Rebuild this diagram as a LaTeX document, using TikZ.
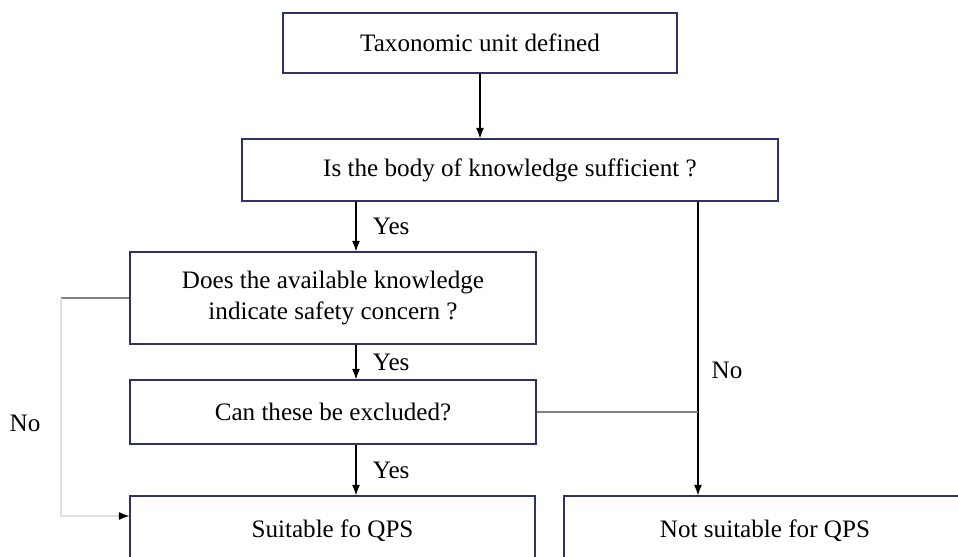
\documentclass[tikz,border=0pt]{standalone}
\usepackage{fontspec}
\setmainfont{Liberation Serif}
\usetikzlibrary{arrows.meta}
\definecolor{boxblue}{HTML}{2D3366}
\tikzset{
  qbox/.style={draw=boxblue,line width=0.7pt,align=center,inner sep=2pt,
    font=\fontsize{14.3}{17.6}\selectfont},
  flow/.style={-{Latex[length=6pt,width=4.5pt]},line width=0.6pt},
  lbl/.style={font=\fontsize{14.3}{17.6}\selectfont}
}
\begin{document}
\begin{tikzpicture}[x=0.02cm,y=-0.02cm]
                \useasboundingbox (0,0) rectangle (958,556);
                \node[qbox,minimum width=7.88cm,minimum height=1.2cm] (taxon) at (480,43) {Taxonomic unit defined};
                \node[qbox,minimum width=10.72cm,minimum height=1.24cm] (body) at (510,170) {Is the body of knowledge sufficient ?};
                \node[qbox,minimum width=8.12cm,minimum height=1.84cm] (concern) at (333,298) {Does the available knowledge\\indicate safety concern ?};
                \node[qbox,minimum width=8.12cm,minimum height=1.28cm] (exclude) at (333,412) {Can these be excluded?};
                \node[qbox,minimum width=8.1cm,minimum height=1.4cm] (suit) at (332.5,531) {Suitable fo QPS};
                \node[qbox,minimum width=8.04cm,minimum height=1.4cm] (notsuit) at (765,531) {Not suitable for QPS};
                \coordinate (spine) at (356,0);
                \coordinate (rspine) at (698,0);
                \coordinate (lspine) at (61,0);
                \coordinate (noin) at (61,516);
                \draw[flow] (taxon.south) -- (body.north -| taxon.south);
                \draw[flow] (spine |- body.south) -- (spine |- concern.north) node[lbl,midway,right=6pt] (yes1) {Yes};
                \draw[flow] (spine |- concern.south) -- (spine |- exclude.north) node[lbl,midway,right=6pt] (yes2) {Yes};
                \draw[flow] (spine |- exclude.south) -- (spine |- suit.north) node[lbl,midway,right=6pt] (yes3) {Yes};
                \draw[flow] (rspine |- body.south) -- (rspine |- notsuit.north);
                \draw[gray,line width=0.6pt] (exclude.east) -- (rspine |- exclude.east);
                \node[lbl] (no1) at (727,370) {No};
                % left branch, No
                \draw[gray,line width=0.6pt] (concern.west) -- (lspine |- concern.west);
                \draw[gray!25,line width=0.6pt,-{Latex[length=6pt,width=4.5pt,color=black]}] (lspine |- concern.west) -- (noin) -- (noin -| suit.west);
                \node[lbl] (no2) at (25,423) {No};
            \end{tikzpicture}
\end{document}
